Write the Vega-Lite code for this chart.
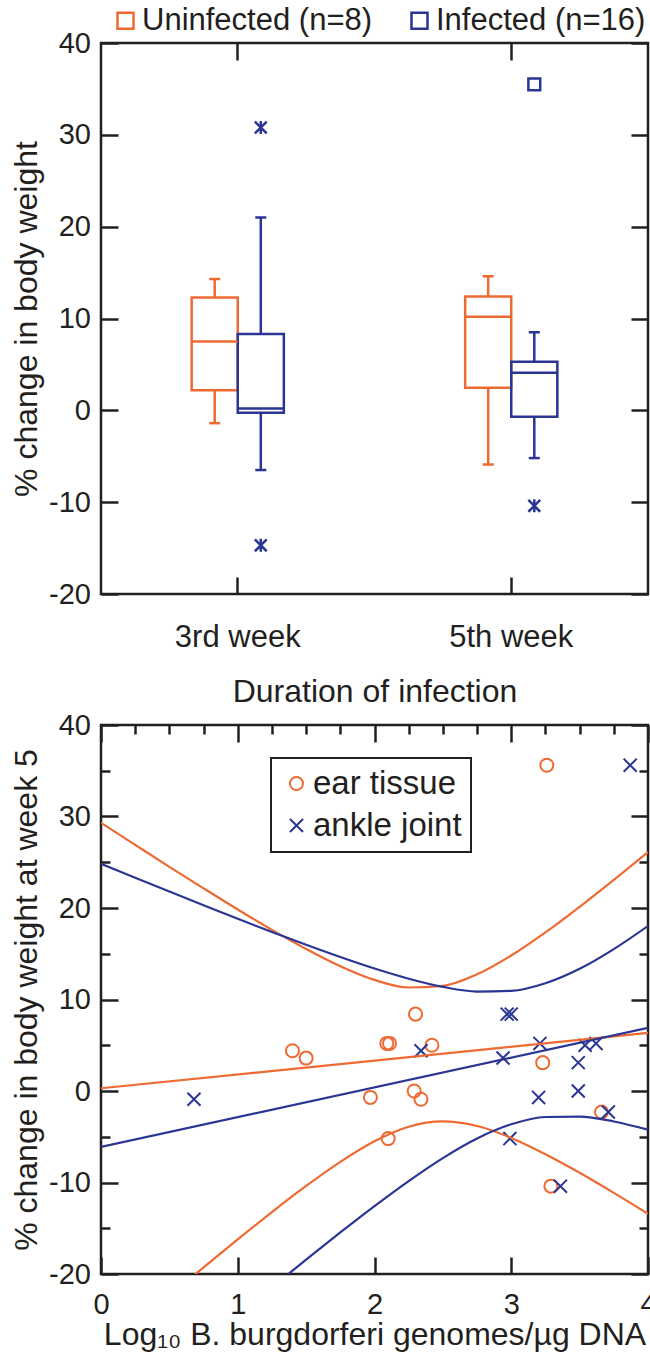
{
  "$schema": "https://vega.github.io/schema/vega-lite/v6.json",
  "padding": {"left": 9, "top": 3, "right": 0, "bottom": 0},
  "spacing": 0,
  "resolve": {"scale": {"color": "independent", "shape": "independent", "stroke": "independent", "fill": "independent"}, "legend": {"color": "independent", "shape": "independent", "stroke": "independent", "fill": "independent"}},
  "config": {
    "font": "Liberation Sans",
    "view": {"stroke": "#231f20", "strokeWidth": 2.5},
    "axis": {"domain": false, "grid": false, "labelColor": "#231f20", "titleColor": "#231f20", "tickColor": "#231f20", "tickWidth": 2.5, "labelFont": "Liberation Sans", "titleFont": "Liberation Sans", "titleFontWeight": "normal", "labelFontSize": 29, "titleFontSize": 32},
    "legend": {"labelFont": "Liberation Sans", "labelFontSize": 31, "labelColor": "#231f20", "labelLimit": 400, "strokeWidth": 2}
  },
  "datasets": {
    "box": [
      {"week": "3rd week", "group": "Uninfected (n=8)", "lo": -1.4, "q1": 2.2, "median": 7.5, "q3": 12.3, "hi": 14.3},
      {"week": "3rd week", "group": "Infected (n=16)", "lo": -6.5, "q1": -0.25, "median": 0.2, "q3": 8.3, "hi": 21.0},
      {"week": "5th week", "group": "Uninfected (n=8)", "lo": -5.9, "q1": 2.45, "median": 10.2, "q3": 12.4, "hi": 14.6},
      {"week": "5th week", "group": "Infected (n=16)", "lo": -5.2, "q1": -0.7, "median": 4.1, "q3": 5.3, "hi": 8.5}
    ],
    "outlierSquares": [
      {"week": "5th week", "group": "Infected (n=16)", "value": 35.5}
    ],
    "outlierStars": [
      {"week": "3rd week", "group": "Infected (n=16)", "value": 30.8},
      {"week": "3rd week", "group": "Infected (n=16)", "value": -14.7},
      {"week": "5th week", "group": "Infected (n=16)", "value": -10.4}
    ],
    "points": [
      {"tissue": "ear tissue", "x": 1.40, "y": 4.4},
      {"tissue": "ear tissue", "x": 1.50, "y": 3.6},
      {"tissue": "ear tissue", "x": 2.09, "y": 5.2},
      {"tissue": "ear tissue", "x": 2.11, "y": 5.2},
      {"tissue": "ear tissue", "x": 2.30, "y": 8.4},
      {"tissue": "ear tissue", "x": 2.42, "y": 5.0},
      {"tissue": "ear tissue", "x": 1.97, "y": -0.7},
      {"tissue": "ear tissue", "x": 2.29, "y": 0.0},
      {"tissue": "ear tissue", "x": 2.34, "y": -0.9},
      {"tissue": "ear tissue", "x": 3.23, "y": 3.1},
      {"tissue": "ear tissue", "x": 3.66, "y": -2.3},
      {"tissue": "ear tissue", "x": 3.26, "y": 35.6},
      {"tissue": "ear tissue", "x": 2.10, "y": -5.2},
      {"tissue": "ear tissue", "x": 3.29, "y": -10.4},
      {"tissue": "ankle joint", "x": 0.68, "y": -0.9},
      {"tissue": "ankle joint", "x": 2.34, "y": 4.4},
      {"tissue": "ankle joint", "x": 2.97, "y": 8.4},
      {"tissue": "ankle joint", "x": 3.00, "y": 8.4},
      {"tissue": "ankle joint", "x": 2.94, "y": 3.6},
      {"tissue": "ankle joint", "x": 3.21, "y": 5.2},
      {"tissue": "ankle joint", "x": 3.20, "y": -0.7},
      {"tissue": "ankle joint", "x": 3.49, "y": 3.1},
      {"tissue": "ankle joint", "x": 3.49, "y": 0.0},
      {"tissue": "ankle joint", "x": 3.54, "y": 5.0},
      {"tissue": "ankle joint", "x": 3.62, "y": 5.2},
      {"tissue": "ankle joint", "x": 3.71, "y": -2.3},
      {"tissue": "ankle joint", "x": 3.87, "y": 35.6},
      {"tissue": "ankle joint", "x": 2.99, "y": -5.2},
      {"tissue": "ankle joint", "x": 3.36, "y": -10.4}
    ],
    "lines": [
      {"tissue": "ear tissue", "part": "fit", "x": 0, "y": 0.3},
      {"tissue": "ear tissue", "part": "fit", "x": 4, "y": 6.35},
      {"tissue": "ankle joint", "part": "fit", "x": 0, "y": -6.1},
      {"tissue": "ankle joint", "part": "fit", "x": 4, "y": 6.9},
      {"tissue": "ear tissue", "part": "upper", "x": 0, "y": 29.31},
      {"tissue": "ear tissue", "part": "upper", "x": 0.25, "y": 26.90},
      {"tissue": "ear tissue", "part": "upper", "x": 0.5, "y": 24.50},
      {"tissue": "ear tissue", "part": "upper", "x": 0.75, "y": 22.15},
      {"tissue": "ear tissue", "part": "upper", "x": 1.0, "y": 19.84},
      {"tissue": "ear tissue", "part": "upper", "x": 1.25, "y": 17.61},
      {"tissue": "ear tissue", "part": "upper", "x": 1.5, "y": 15.52},
      {"tissue": "ear tissue", "part": "upper", "x": 1.75, "y": 13.64},
      {"tissue": "ear tissue", "part": "upper", "x": 2.0, "y": 12.14},
      {"tissue": "ear tissue", "part": "upper", "x": 2.25, "y": 11.31},
      {"tissue": "ear tissue", "part": "upper", "x": 2.5, "y": 11.49},
      {"tissue": "ear tissue", "part": "upper", "x": 2.75, "y": 12.75},
      {"tissue": "ear tissue", "part": "upper", "x": 3.0, "y": 14.81},
      {"tissue": "ear tissue", "part": "upper", "x": 3.25, "y": 17.34},
      {"tissue": "ear tissue", "part": "upper", "x": 3.5, "y": 20.13},
      {"tissue": "ear tissue", "part": "upper", "x": 3.75, "y": 23.07},
      {"tissue": "ear tissue", "part": "upper", "x": 4.0, "y": 26.11},
      {"tissue": "ear tissue", "part": "lower", "x": 0, "y": -28.71},
      {"tissue": "ear tissue", "part": "lower", "x": 0.25, "y": -25.54},
      {"tissue": "ear tissue", "part": "lower", "x": 0.5, "y": -22.39},
      {"tissue": "ear tissue", "part": "lower", "x": 0.75, "y": -19.28},
      {"tissue": "ear tissue", "part": "lower", "x": 1.0, "y": -16.22},
      {"tissue": "ear tissue", "part": "lower", "x": 1.25, "y": -13.23},
      {"tissue": "ear tissue", "part": "lower", "x": 1.5, "y": -10.38},
      {"tissue": "ear tissue", "part": "lower", "x": 1.75, "y": -7.74},
      {"tissue": "ear tissue", "part": "lower", "x": 2.0, "y": -5.49},
      {"tissue": "ear tissue", "part": "lower", "x": 2.25, "y": -3.90},
      {"tissue": "ear tissue", "part": "lower", "x": 2.5, "y": -3.33},
      {"tissue": "ear tissue", "part": "lower", "x": 2.75, "y": -3.83},
      {"tissue": "ear tissue", "part": "lower", "x": 3.0, "y": -5.13},
      {"tissue": "ear tissue", "part": "lower", "x": 3.25, "y": -6.91},
      {"tissue": "ear tissue", "part": "lower", "x": 3.5, "y": -8.94},
      {"tissue": "ear tissue", "part": "lower", "x": 3.75, "y": -11.13},
      {"tissue": "ear tissue", "part": "lower", "x": 4.0, "y": -13.41},
      {"tissue": "ankle joint", "part": "upper", "x": 0, "y": 24.84},
      {"tissue": "ankle joint", "part": "upper", "x": 0.25, "y": 23.31},
      {"tissue": "ankle joint", "part": "upper", "x": 0.5, "y": 21.80},
      {"tissue": "ankle joint", "part": "upper", "x": 0.75, "y": 20.30},
      {"tissue": "ankle joint", "part": "upper", "x": 1.0, "y": 18.82},
      {"tissue": "ankle joint", "part": "upper", "x": 1.25, "y": 17.38},
      {"tissue": "ankle joint", "part": "upper", "x": 1.5, "y": 15.98},
      {"tissue": "ankle joint", "part": "upper", "x": 1.75, "y": 14.64},
      {"tissue": "ankle joint", "part": "upper", "x": 2.0, "y": 13.38},
      {"tissue": "ankle joint", "part": "upper", "x": 2.25, "y": 12.27},
      {"tissue": "ankle joint", "part": "upper", "x": 2.5, "y": 11.38},
      {"tissue": "ankle joint", "part": "upper", "x": 2.75, "y": 10.87},
      {"tissue": "ankle joint", "part": "upper", "x": 3.0, "y": 10.94},
      {"tissue": "ankle joint", "part": "upper", "x": 3.25, "y": 11.77},
      {"tissue": "ankle joint", "part": "upper", "x": 3.5, "y": 13.35},
      {"tissue": "ankle joint", "part": "upper", "x": 3.75, "y": 15.51},
      {"tissue": "ankle joint", "part": "upper", "x": 4.0, "y": 18.03},
      {"tissue": "ankle joint", "part": "lower", "x": 0, "y": -37.04},
      {"tissue": "ankle joint", "part": "lower", "x": 0.25, "y": -33.89},
      {"tissue": "ankle joint", "part": "lower", "x": 0.5, "y": -30.75},
      {"tissue": "ankle joint", "part": "lower", "x": 0.75, "y": -27.62},
      {"tissue": "ankle joint", "part": "lower", "x": 1.0, "y": -24.52},
      {"tissue": "ankle joint", "part": "lower", "x": 1.25, "y": -21.46},
      {"tissue": "ankle joint", "part": "lower", "x": 1.5, "y": -18.43},
      {"tissue": "ankle joint", "part": "lower", "x": 1.75, "y": -15.46},
      {"tissue": "ankle joint", "part": "lower", "x": 2.0, "y": -12.58},
      {"tissue": "ankle joint", "part": "lower", "x": 2.25, "y": -9.84},
      {"tissue": "ankle joint", "part": "lower", "x": 2.5, "y": -7.33},
      {"tissue": "ankle joint", "part": "lower", "x": 2.75, "y": -5.19},
      {"tissue": "ankle joint", "part": "lower", "x": 3.0, "y": -3.64},
      {"tissue": "ankle joint", "part": "lower", "x": 3.25, "y": -2.84},
      {"tissue": "ankle joint", "part": "lower", "x": 3.5, "y": -2.80},
      {"tissue": "ankle joint", "part": "lower", "x": 3.75, "y": -3.33},
      {"tissue": "ankle joint", "part": "lower", "x": 4.0, "y": -4.23}
    ]
  },
  "vconcat": [
    {
      "width": 547,
      "height": 551,
      "resolve": {"axis": {"x": "independent", "y": "independent"}},
      "layer": [
        {
          "data": {"name": "outlierSquares"},
          "mark": {"type": "point", "shape": "square", "filled": false, "strokeWidth": 2.5, "size": 140, "opacity": 1},
          "encoding": {
            "x": {"field": "week", "type": "nominal", "scale": {"domain": ["3rd week", "5th week"], "paddingInner": 0, "paddingOuter": 0},
                  "axis": {"orient": "bottom", "title": "Duration of infection", "labelAngle": 0, "labelFontSize": 31, "tickSize": -17, "labelPadding": 45, "titlePadding": 24}},
            "xOffset": {"field": "group", "type": "nominal", "scale": {"domain": ["padA", "Uninfected (n=8)", "Infected (n=16)", "padB"], "paddingInner": 0, "paddingOuter": 0.967}},
            "y": {"field": "value", "type": "quantitative", "scale": {"domain": [-20, 40], "nice": false, "zero": false},
                  "axis": {"orient": "left", "values": [-20, -10, 0, 10, 20, 30, 40], "tickSize": -17, "labelPadding": 27.5, "labelExpr": "replace(datum.label, '−', '-')", "title": "% change in body weight", "titlePadding": 5}},
            "color": {"field": "group", "type": "nominal", "scale": {"domain": ["Uninfected (n=8)", "Infected (n=16)"], "range": ["#EF6A32", "#2A3594"]},
                      "legend": {"orient": "none", "legendX": 9, "legendY": -38, "direction": "horizontal", "title": null, "symbolSize": 256, "symbolStrokeWidth": 2.5, "labelOffset": 1, "columnPadding": 31, "padding": 0}}
          }
        },
        {
          "data": {"name": "outlierStars"},
          "mark": {"type": "point", "shape": "M-1,-1L1,1M-1,1L1,-1M0,-1.1L0,1.1", "filled": false, "strokeWidth": 2.5, "size": 140, "opacity": 1},
          "encoding": {
            "x": {"field": "week", "type": "nominal", "axis": null},
            "xOffset": {"field": "group", "type": "nominal"},
            "y": {"field": "value", "type": "quantitative", "axis": null},
            "stroke": {"field": "group", "type": "nominal", "scale": {"domain": ["Uninfected (n=8)", "Infected (n=16)"], "range": ["#EF6A32", "#2A3594"]}, "legend": null}
          }
        },
        {
          "data": {"name": "box"},
          "mark": {"type": "bar", "filled": false, "strokeWidth": 2.5},
          "encoding": {
            "x": {"field": "week", "type": "nominal", "axis": null},
            "xOffset": {"field": "group", "type": "nominal"},
            "y": {"field": "q1", "type": "quantitative", "axis": null},
            "y2": {"field": "q3"},
            "stroke": {"field": "group", "type": "nominal", "legend": null}
          }
        },
        {
          "data": {"name": "box"},
          "mark": {"type": "rule", "strokeWidth": 2.5},
          "encoding": {
            "x": {"field": "week", "type": "nominal", "axis": null},
            "xOffset": {"field": "group", "type": "nominal"},
            "y": {"field": "q3", "type": "quantitative", "axis": null},
            "y2": {"field": "hi"},
            "stroke": {"field": "group", "type": "nominal", "legend": null}
          }
        },
        {
          "data": {"name": "box"},
          "mark": {"type": "rule", "strokeWidth": 2.5},
          "encoding": {
            "x": {"field": "week", "type": "nominal", "axis": null},
            "xOffset": {"field": "group", "type": "nominal"},
            "y": {"field": "lo", "type": "quantitative", "axis": null},
            "y2": {"field": "q1"},
            "stroke": {"field": "group", "type": "nominal", "legend": null}
          }
        },
        {
          "data": {"name": "box"},
          "mark": {"type": "tick", "thickness": 2.5, "size": 46, "opacity": 1},
          "encoding": {
            "x": {"field": "week", "type": "nominal", "axis": {"orient": "top", "labels": false, "title": null, "tickSize": -17}},
            "xOffset": {"field": "group", "type": "nominal"},
            "y": {"field": "median", "type": "quantitative", "axis": {"orient": "right", "labels": false, "title": null, "values": [-20, -10, 0, 10, 20, 30, 40], "tickSize": -17}},
            "fill": {"field": "group", "type": "nominal", "scale": {"domain": ["Infected (n=16)", "Uninfected (n=8)"], "range": ["#2A3594", "#EF6A32"]}, "legend": null}
          }
        },
        {
          "data": {"name": "box"},
          "mark": {"type": "tick", "thickness": 2.5, "size": 11, "opacity": 1},
          "encoding": {
            "x": {"field": "week", "type": "nominal", "axis": null},
            "xOffset": {"field": "group", "type": "nominal"},
            "y": {"field": "hi", "type": "quantitative", "axis": null},
            "fill": {"field": "group", "type": "nominal", "legend": null}
          }
        },
        {
          "data": {"name": "box"},
          "mark": {"type": "tick", "thickness": 2.5, "size": 11, "opacity": 1},
          "encoding": {
            "x": {"field": "week", "type": "nominal", "axis": null},
            "xOffset": {"field": "group", "type": "nominal"},
            "y": {"field": "lo", "type": "quantitative", "axis": null},
            "fill": {"field": "group", "type": "nominal", "legend": null}
          }
        }
      ]
    },
    {
      "width": 547,
      "height": 549,
      "resolve": {"axis": {"x": "independent", "y": "independent"}},
      "layer": [
        {
          "data": {"name": "points"},
          "mark": {"type": "point", "filled": false, "strokeWidth": 2, "size": 170, "opacity": 1},
          "encoding": {
            "x": {"field": "x", "type": "quantitative", "scale": {"domain": [0, 4], "nice": false, "zero": false},
                  "axis": {"orient": "bottom", "values": [0, 0.25, 0.5, 0.75, 1, 1.25, 1.5, 1.75, 2, 2.25, 2.5, 2.75, 3, 3.25, 3.5, 3.75, 4],
                           "format": "d",
                           "tickSize": {"condition": {"test": "datum.value % 1 === 0", "value": -17}, "value": -9},
                           "labelExpr": "datum.value % 1 === 0 ? datum.label : ''", "labelPadding": 33, "labelFlush": false,
                           "title": "Log₁₀ B. burgdorferi genomes/µg DNA", "titlePadding": 0}},
            "y": {"field": "y", "type": "quantitative", "scale": {"domain": [-20, 40], "nice": false, "zero": false},
                  "axis": {"orient": "left", "values": [-20, -15, -10, -5, 0, 5, 10, 15, 20, 25, 30, 35, 40],
                           "tickSize": {"condition": {"test": "datum.value % 10 === 0", "value": -17}, "value": -9},
                           "labelExpr": "datum.value % 10 === 0 ? replace(datum.label, '−', '-') : ''", "labelPadding": 27.5,
                           "title": "% change in body weight at week 5", "titlePadding": 5}},
            "color": {"field": "tissue", "type": "nominal", "scale": {"domain": ["ear tissue", "ankle joint"], "range": ["#EF6A32", "#2A3594"]},
                      "legend": {"orient": "none", "legendX": 170, "legendY": 33, "title": null, "strokeColor": "#231f20", "padding": 9, "rowPadding": 8, "labelOffset": 0, "labelFontSize": 33, "symbolSize": 170, "symbolStrokeWidth": 2}},
            "shape": {"field": "tissue", "type": "nominal", "scale": {"domain": ["ear tissue", "ankle joint"], "range": ["circle", "M-1,-1L1,1M-1,1L1,-1"]},
                      "legend": {"orient": "none", "legendX": 170, "legendY": 33, "title": null, "strokeColor": "#231f20", "padding": 9, "rowPadding": 8, "labelOffset": 0, "labelFontSize": 33, "symbolSize": 170, "symbolStrokeWidth": 2}}
          }
        },
        {
          "data": {"name": "lines"},
          "mark": {"type": "line", "strokeWidth": 2.2, "interpolate": "monotone", "clip": true},
          "encoding": {
            "x": {"field": "x", "type": "quantitative",
                  "axis": {"orient": "top", "values": [0, 0.25, 0.5, 0.75, 1, 1.25, 1.5, 1.75, 2, 2.25, 2.5, 2.75, 3, 3.25, 3.5, 3.75, 4],
                           "tickSize": {"condition": {"test": "datum.value % 1 === 0", "value": -17}, "value": -9},
                           "labels": false, "title": null}},
            "y": {"field": "y", "type": "quantitative",
                  "axis": {"orient": "right", "values": [-20, -15, -10, -5, 0, 5, 10, 15, 20, 25, 30, 35, 40],
                           "tickSize": {"condition": {"test": "datum.value % 10 === 0", "value": -17}, "value": -9},
                           "labels": false, "title": null}},
            "stroke": {"field": "tissue", "type": "nominal", "scale": {"domain": ["ear tissue", "ankle joint"], "range": ["#EF6A32", "#2A3594"]}, "legend": null},
            "detail": {"field": "part", "type": "nominal"}
          }
        }
      ]
    }
  ]
}
